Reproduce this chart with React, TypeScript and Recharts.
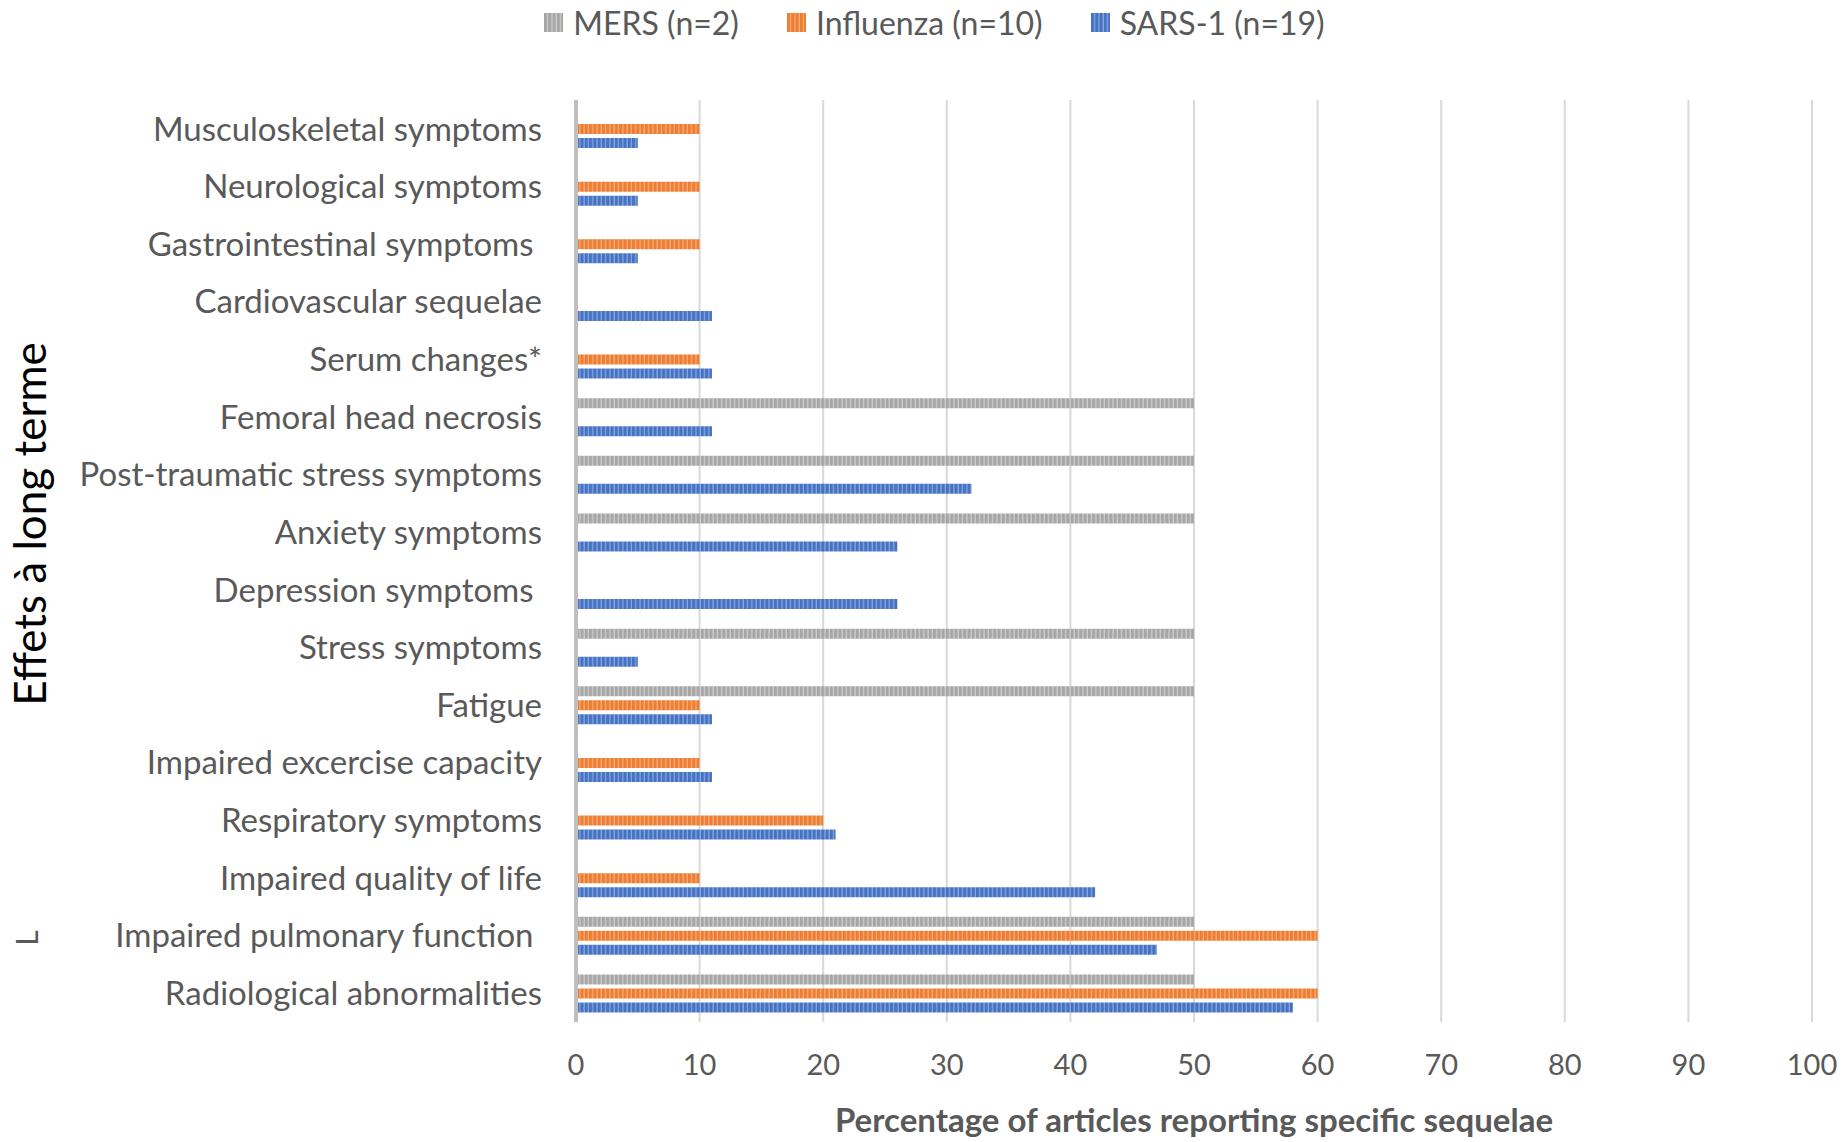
import { Bar, BarChart, CartesianGrid, Legend, XAxis, YAxis } from "recharts";

const categories = [
    "Musculoskeletal symptoms",
    "Neurological symptoms",
    "Gastrointestinal symptoms\u00a0",
    "Cardiovascular sequelae",
    "Serum changes*",
    "Femoral head necrosis",
    "Post-traumatic stress symptoms",
    "Anxiety symptoms",
    "Depression symptoms\u00a0",
    "Stress symptoms",
    "Fatigue",
    "Impaired excercise capacity",
    "Respiratory symptoms",
    "Impaired quality of life",
    "Impaired pulmonary function\u00a0",
    "Radiological abnormalities",
];

const mers = [0, 0, 0, 0, 0, 50, 50, 50, 0, 50, 50, 0, 0, 0, 50, 50];
const influenza = [10, 10, 10, 0, 10, 0, 0, 0, 0, 0, 10, 10, 20, 10, 60, 60];
const sars = [5, 5, 5, 11, 11, 11, 32, 26, 26, 5, 11, 11, 21, 42, 47, 58];

const xTicks = [0, 10, 20, 30, 40, 50, 60, 70, 80, 90, 100];

const series = [
    { key: "mers", name: "MERS (n=2)", color: "#A6A6A6", light: "#CDCDCD" },
    { key: "influenza", name: "Influenza (n=10)", color: "#ED7D31", light: "#F5AC7A" },
    { key: "sars", name: "SARS-1 (n=19)", color: "#4472C4", light: "#8AA6DB" },
];

const data = categories.map((name, i) => ({
    name,
    mers: mers[i],
    influenza: influenza[i],
    sars: sars[i],
}));

const textGray = "#595959";

function LegendRow() {
    return (
        <div style={{ display: "flex", justifyContent: "center", alignItems: "center", height: 44, paddingLeft: 70 }}>
            {series.map((s) => (
                <div key={s.key} style={{ display: "flex", alignItems: "center", marginRight: 48 }}>
                    <svg width={19} height={19} style={{ marginRight: 10 }}>
                        <rect x={0} y={0} width={19} height={19} fill={`url(#stripe-${s.key})`} />
                    </svg>
                    <span style={{ fontSize: 32, color: textGray, fontFamily: "Lato" }}>{s.name}</span>
                </div>
            ))}
        </div>
    );
}

function YTitle() {
    return (
        <g>
            <text x={46} y={524} transform="rotate(-90 46 524)" textAnchor="middle" fontSize={44} fill="#000" fontFamily="Lato">
                Effets à long terme
            </text>
            <text x={38} y={938} transform="rotate(-90 38 938)" textAnchor="middle" fontSize={30} fill={textGray} fontFamily="Lato">
                L
            </text>
        </g>
    );
}

export default function App() {
    return (
        <div style={{ position: "absolute", left: 0, top: 0, width: 1847, height: 1142, background: "#fff", fontFamily: "Lato" }}>
            <BarChart
                width={1847}
                height={1142}
                data={data}
                layout="vertical"
                margin={{ top: 56, right: 35, left: 0, bottom: 0 }}
                barSize={10}
                barGap={4}
            >
                <defs>
                    {series.map((s) => (
                        <pattern key={s.key} id={`stripe-${s.key}`} width={4.3} height={10} patternUnits="userSpaceOnUse">
                            <rect x={0} y={0} width={4.3} height={10} fill={s.color} />
                            <rect x={3} y={0} width={1.3} height={10} fill={s.light} />
                        </pattern>
                    ))}
                </defs>
                <CartesianGrid horizontal={false} stroke="#D9D9D9" strokeWidth={2} />
                <XAxis
                    type="number"
                    domain={[0, 100]}
                    ticks={xTicks}
                    height={120}
                    axisLine={false}
                    tickLine={false}
                    tickSize={0}
                    tickMargin={32}
                    tick={{ fontSize: 29, fill: textGray, fontFamily: "Lato" }}
                    label={{
                        value: "Percentage of articles reporting specific sequelae",
                        position: "insideBottom",
                        offset: 10,
                        style: { fontSize: 33, fontWeight: "bold", fill: textGray, fontFamily: "Lato" },
                    }}
                />
                <YAxis
                    type="category"
                    dataKey="name"
                    width={576}
                    interval={0}
                    axisLine={{ stroke: "#BFBFBF", strokeWidth: 4 }}
                    tickLine={false}
                    tickSize={0}
                    tickMargin={34}
                    tick={{ fontSize: 33, fill: textGray, fontFamily: "Lato" }}
                    label={{ content: () => <YTitle /> }}
                />
                <Legend verticalAlign="top" wrapperStyle={{ top: 0, left: 0, width: 1847 }} content={() => <LegendRow />} />
                {series.map((s) => (
                    <Bar key={s.key} dataKey={s.key} name={s.name} fill={`url(#stripe-${s.key})`} isAnimationActive={false} />
                ))}
            </BarChart>
        </div>
    );
}
